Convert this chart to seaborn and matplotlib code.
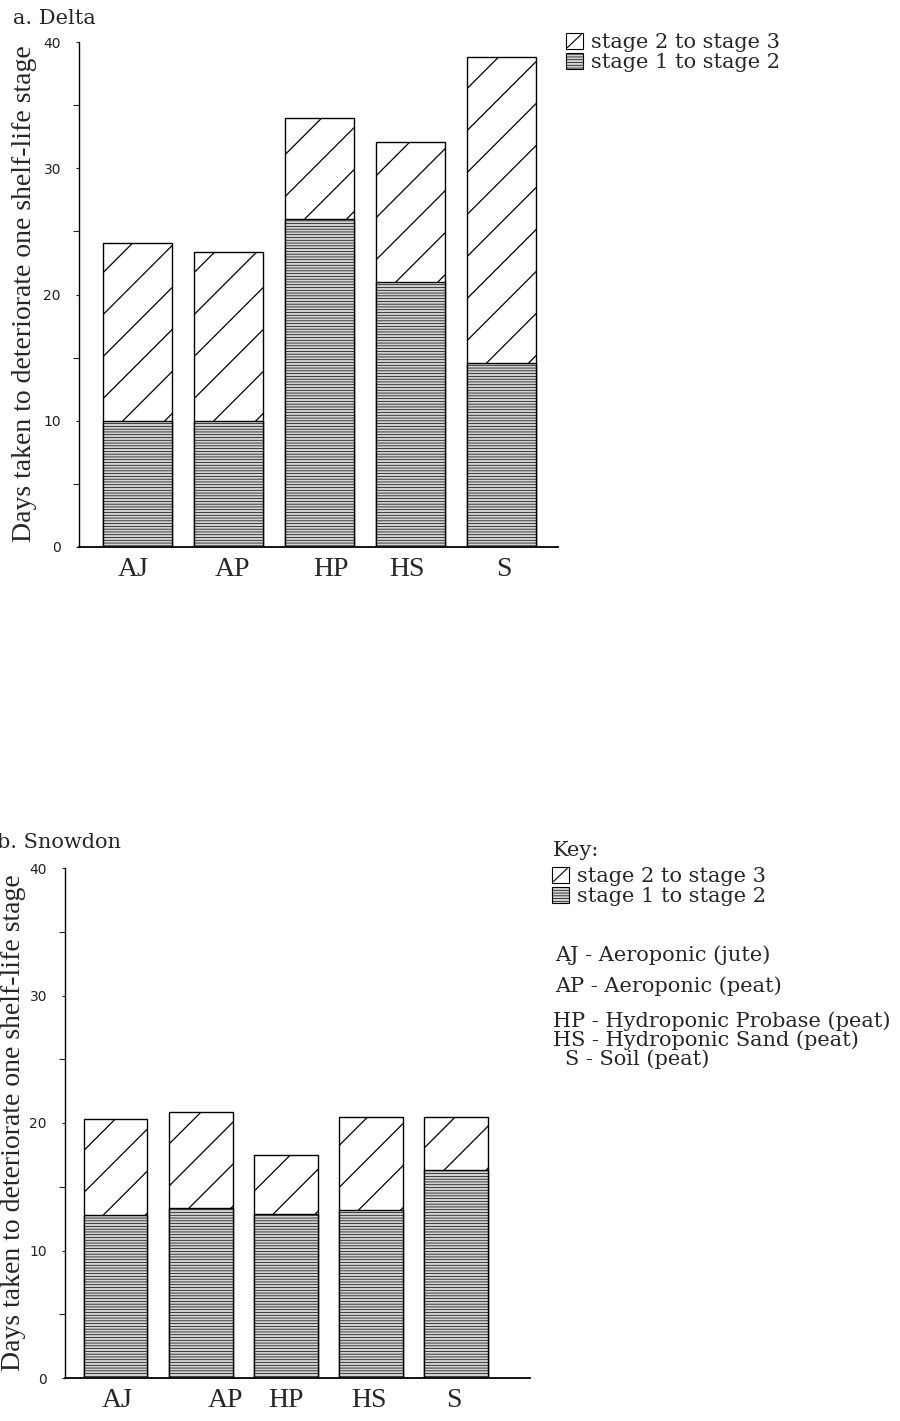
import numpy as np
import pandas as pd
import matplotlib
matplotlib.use("Agg")
import matplotlib.pyplot as plt
import seaborn as sns
from matplotlib.patches import Rectangle, Patch
from matplotlib.lines import Line2D
from matplotlib.legend_handler import HandlerBase
from matplotlib.ticker import MultipleLocator
from matplotlib.transforms import IdentityTransform

# ---- data -------------------------------------------------------------
treatments = ["AJ", "AP", "HP", "HS", "S"]
treatment_names = ["Aeroponic (jute)", "Aeroponic (peat)",
                   "Hydroponic Probase (peat)", "Hydroponic Sand (peat)",
                   "Soil (peat)"]

# days to pass from stage 1 to stage 2, and from stage 2 to stage 3
delta_stage1 = [10.0, 10.0, 26.0, 21.0, 14.6]
delta_stage2 = [14.1, 13.4, 8.0, 11.1, 24.2]
snowdon_stage1 = [12.8, 13.3, 12.9, 13.2, 16.3]
snowdon_stage2 = [7.5, 7.6, 4.6, 7.3, 4.2]

y_ticks = [0, 10, 20, 30, 40]
stage_labels = ["stage 2 to stage 3", "stage 1 to stage 2"]
y_title = "Days taken to deteriorate one shelf-life stage"

# ---- layout (figure pixels) -------------------------------------------
W, H = 900, 1421
STAGE1_FACE = "#d2d2d2"
SERIF_T = ["Liberation Serif", "DejaVu Serif"]
SERIF_C = ["DejaVu Serif"]

sns.set_theme(style="white")
plt.rcParams["hatch.linewidth"] = 0.5

fig = plt.figure(figsize=(W / 100, H / 100), dpi=100)


def fx(px):
    return px / W


def fy(py):
    return 1 - py / H


def axes_px(left, top, right, bottom):
    return fig.add_axes([fx(left), fy(bottom), (right - left) / W, (bottom - top) / H])


class DiagonalBox(HandlerBase):
    """Legend key: open square crossed by one diagonal stroke."""

    def create_artists(self, legend, orig_handle, xdescent, ydescent,
                       width, height, fontsize, trans):
        x0, y0 = -xdescent, -ydescent
        box = Rectangle((x0, y0), width, height, facecolor="white",
                        edgecolor="black", lw=0.8, transform=trans)
        diag = Line2D([x0 + 1, x0 + width - 1], [y0 + 1, y0 + height - 1],
                      color="black", lw=0.8, transform=trans)
        return [box, diag]


def draw_panel(ax, s1, s2, xlim, label_pos, bar_width):
    df = pd.DataFrame({"treatment": treatments, "stage1": s1, "stage2": s2})
    df["total"] = df["stage1"] + df["stage2"]

    sns.barplot(data=df, x="treatment", y="total", color="white",
                saturation=1, edgecolor="black", linewidth=1.0,
                width=bar_width, errorbar=None, ax=ax)
    upper = list(ax.patches)
    sns.barplot(data=df, x="treatment", y="stage1", color=STAGE1_FACE,
                saturation=1, edgecolor="black", linewidth=1.0, hatch="------",
                width=bar_width, errorbar=None, ax=ax)

    ax.set_xlim(*xlim)
    ax.set_ylim(0, 40)
    ax.set_xlabel("")
    ax.set_ylabel("")
    ax.set_yticks(y_ticks)
    ax.set_yticklabels([str(t) for t in y_ticks], family="DejaVu Sans",
                       fontsize=10, color="#222222")
    ax.yaxis.set_minor_locator(MultipleLocator(5))
    ax.tick_params(axis="y", which="major", direction="out", length=2,
                   width=0.8, pad=11, left=True, color="#222222")
    ax.tick_params(axis="y", which="minor", direction="out", length=4,
                   width=0.8, left=True, color="#222222")
    ax.set_xticks(label_pos)
    ax.set_xticklabels(treatments, family=SERIF_T, fontsize=20)
    ax.tick_params(axis="x", length=0, pad=7)
    for side in ("top", "right"):
        ax.spines[side].set_visible(False)
    ax.spines["left"].set_linewidth(1.0)
    ax.spines["bottom"].set_linewidth(1.3)
    for sp in ax.spines.values():
        sp.set_color("black")

    # sparse diagonal shading on the stage 2 -> 3 segment
    spacing, offset = 42, 20
    for i, p in enumerate(upper):
        x0, w = p.get_x(), p.get_width()
        X0, Y0 = ax.transData.transform((x0, s1[i]))
        X1, Y1 = ax.transData.transform((x0 + w, s1[i] + s2[i]))
        c = X0 + offset - Y0
        while c > X0 - Y1:
            c -= spacing
        while c < X1 - Y0:
            ln = Line2D([X0 - 2, X1 + 2], [X0 - 2 - c, X1 + 2 - c],
                        transform=IdentityTransform(), color="black", lw=0.9,
                        zorder=1.5)
            ax.add_artist(ln)
            clip = Rectangle((X0, Y0), X1 - X0, Y1 - Y0,
                             transform=IdentityTransform())
            ln.set_clip_path(clip)
            c += spacing


def stage_legend(x_px, top_px):
    h2 = Patch(facecolor="white", edgecolor="black")
    h1 = Patch(facecolor=STAGE1_FACE, edgecolor="black", hatch="------", lw=0.8)
    leg = fig.legend([h2, h1], stage_labels, loc="upper left",
                     bbox_to_anchor=(fx(x_px), fy(top_px)),
                     bbox_transform=fig.transFigure, frameon=False,
                     borderpad=0, borderaxespad=0, handlelength=0.8,
                     handleheight=0.8, handletextpad=0.4, labelspacing=0.05,
                     prop={"family": SERIF_C, "size": 15},
                     handler_map={h2: DiagonalBox()})
    return leg


# ---- panel a: Delta ---------------------------------------------------
ax_a = axes_px(79, 42, 558, 547)
draw_panel(ax_a, delta_stage1, delta_stage2, (-0.643, 4.62),
           [-0.05, 1.04, 2.13, 2.96, 4.03], 0.76)
fig.text(fx(13), fy(19), "a. Delta", family=SERIF_C, fontsize=15,
         ha="left", va="center")
fig.text(fx(25), fy(294), y_title, family=SERIF_T, fontsize=20,
         rotation=90, ha="center", va="center")
stage_legend(566, 33)

# ---- panel b: Snowdon -------------------------------------------------
ax_b = axes_px(65, 868, 530, 1378)
draw_panel(ax_b, snowdon_stage1, snowdon_stage2, (-0.593, 4.87),
           [0.02, 1.29, 2.0, 2.98, 3.98], 0.75)
fig.text(fx(-3), fy(842), "b. Snowdon", family=SERIF_C, fontsize=15,
         ha="left", va="center")
fig.text(fx(14), fy(1123), y_title, family=SERIF_T, fontsize=20,
         rotation=90, ha="center", va="center")

fig.text(fx(553), fy(850), "Key:", family=SERIF_C, fontsize=15,
         ha="left", va="center")
stage_legend(552, 867)

key_x = [555, 555, 553, 553, 565]
key_y = [955, 986, 1021, 1040, 1059]
for code, name, kx, ky in zip(treatments, treatment_names, key_x, key_y):
    fig.text(fx(kx), fy(ky), f"{code} - {name}", family=SERIF_C,
             fontsize=15, ha="left", va="center")

fig.savefig("out.png", dpi=100, facecolor="white")
